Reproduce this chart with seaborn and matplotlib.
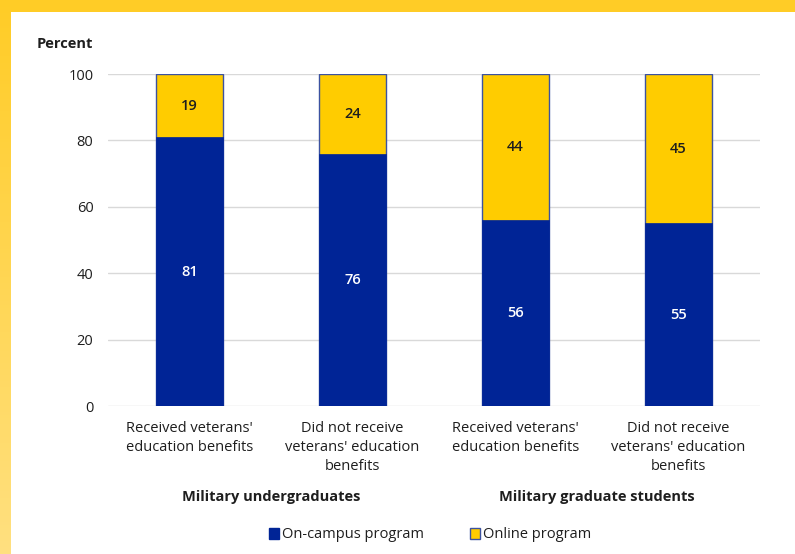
import numpy as np
import pandas as pd
import matplotlib
matplotlib.use("Agg")
import matplotlib.pyplot as plt
from matplotlib.colors import LinearSegmentedColormap
from matplotlib.patches import Patch
import seaborn as sns

# Data
categories = [
    "Received veterans'\neducation benefits",
    "Did not receive\nveterans' education\nbenefits",
    "Received veterans'\neducation benefits",
    "Did not receive\nveterans' education\nbenefits",
]
on_campus = [81, 76, 56, 55]
online = [19, 24, 44, 45]
groups = ["Military undergraduates", "Military graduate students"]
series_names = ["On-campus program", "Online program"]
y_ticks = [0, 20, 40, 60, 80, 100]

BLUE = "#002496"
YELLOW = "#FFCC00"
EDGE = "#3c52a0"
TEXT = "#1e1e1e"

sns.set_theme(style="white")
plt.rcParams["font.family"] = ["Open Sans", "DejaVu Sans"]

W, H = 795, 554
fig = plt.figure(figsize=(W / 100, H / 100), dpi=100)

# Yellow frame: top strip and a left strip fading toward the bottom
frame_top = fig.add_axes([0, 1 - 12 / H, 1, 12 / H])
frame_top.axis("off")
frame_top.add_patch(plt.Rectangle((0, 0), 1, 1, color="#FFCC26", transform=frame_top.transAxes))
frame_left = fig.add_axes([0, 0, 11 / W, 1])
grad = np.linspace(0, 1, 256).reshape(-1, 1)
cmap = LinearSegmentedColormap.from_list("frame", ["#FFCC26", "#FFE080"])
frame_left.imshow(grad, aspect="auto", cmap=cmap, extent=[0, 1, 0, 1], origin="upper")
frame_left.axis("off")

ax = fig.add_axes([108 / W, 1 - 406 / H, (760 - 108) / W, (406 - 74) / H])

df = pd.DataFrame({
    "category": [f"c{i}" for i in range(len(categories))],
    "on_campus": on_campus,
    "online": online,
})
df["total"] = df["on_campus"] + df["online"]

bar_w = 0.405
sns.barplot(data=df, x="category", y="total", color=YELLOW, saturation=1,
            width=bar_w, edgecolor=EDGE, linewidth=1.0, ax=ax, zorder=2)
sns.barplot(data=df, x="category", y="on_campus", color=BLUE, saturation=1,
            width=bar_w, edgecolor=BLUE, linewidth=0.5, ax=ax, zorder=3)

# Segment value labels
for i, (a, b) in enumerate(zip(on_campus, online)):
    ax.text(i, a / 2, f"{a}", ha="center", va="center", color="white",
            fontsize=10.5, fontweight="semibold", zorder=4)
    ax.text(i, a + b / 2, f"{b}", ha="center", va="center", color=TEXT,
            fontsize=10.5, fontweight="semibold", zorder=4)

ax.set_xlim(-0.5, len(categories) - 0.5)
ax.set_ylim(0, 100)
ax.set_yticks(y_ticks)
ax.set_yticklabels([str(t) for t in y_ticks], fontsize=10.5, color=TEXT)
ax.set_xticks(range(len(categories)))
ax.set_xticklabels(categories, fontsize=10.5, color=TEXT, linespacing=1.4, va="top")
ax.tick_params(axis="both", length=0)
ax.tick_params(axis="y", pad=10.5)
ax.tick_params(axis="x", pad=10.5)
ax.set_xlabel("")
ax.set_ylabel("")
ax.yaxis.grid(True, color="#d9d9d9", linewidth=1)
ax.set_axisbelow(True)
for s in ax.spines.values():
    s.set_visible(False)

# Axis title
fig.text(37 / W, 1 - 44 / H, "Percent", fontsize=10.5, fontweight="bold",
         color=TEXT, ha="left", va="center")

# Group labels
group_y = -(497 - 406) / (406 - 74)
for g, (i0, i1) in zip(groups, [(0, 1), (2, 3)]):
    xc = (i0 + i1) / 2
    ax.text(xc, group_y, g, transform=ax.get_xaxis_transform(), ha="center",
            va="center", fontsize=10.5, fontweight="bold", color=TEXT)

# Legend
handles = [Patch(facecolor=BLUE, edgecolor=BLUE, label=series_names[0]),
           Patch(facecolor=YELLOW, edgecolor=EDGE, label=series_names[1])]
fig.legend(handles=handles, loc="center", bbox_to_anchor=(430 / W, 1 - 535 / H),
           ncol=2, frameon=False, fontsize=10.5, handlelength=0.7, handleheight=0.7,
           handletextpad=0.15, columnspacing=3.2, labelcolor=TEXT)

fig.savefig("out.png", dpi=100, facecolor="white")
